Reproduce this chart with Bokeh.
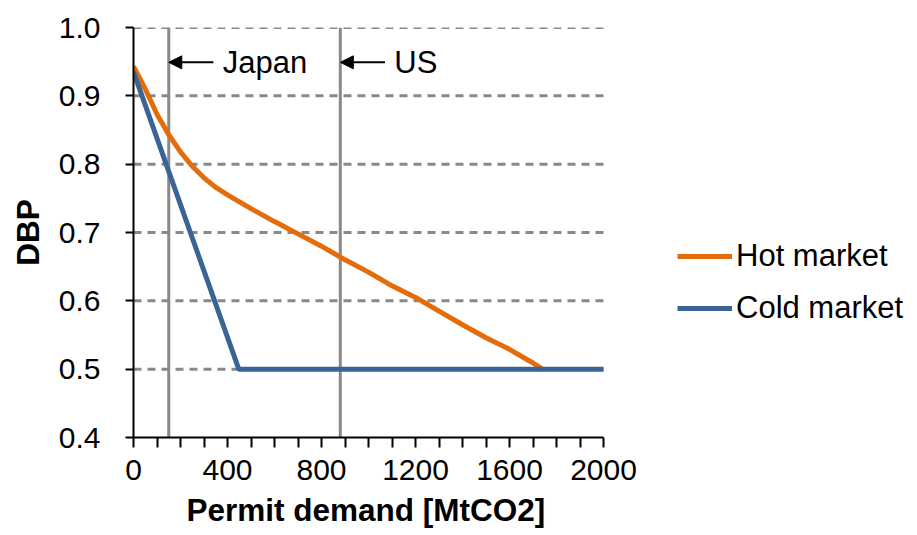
from bokeh.plotting import figure
from bokeh.models import (Range1d, FixedTicker, NumeralTickFormatter, Legend, LegendItem,
                          Span, Arrow, NormalHead, Label, Title)
from bokeh.embed import file_html
from bokeh.resources import INLINE

# Data
hot_x = [0, 50, 100, 150, 200, 250, 300, 350, 400, 500, 600, 700, 800, 900, 1000,
         1100, 1200, 1300, 1400, 1500, 1600, 1700, 1740]
hot_y = [0.943, 0.91, 0.873, 0.843, 0.818, 0.797, 0.78, 0.766, 0.755, 0.735, 0.716,
         0.698, 0.68, 0.66, 0.642, 0.622, 0.605, 0.585, 0.565, 0.546, 0.529, 0.509, 0.5]
cold_x = [0, 448, 2000]
cold_y = [0.935, 0.5, 0.5]
x_ticks = list(range(0, 2001, 100))
x_labeled = [0, 400, 800, 1200, 1600, 2000]
y_ticks = [0.4, 0.5, 0.6, 0.7, 0.8, 0.9, 1.0]
markers = [("Japan", 150), ("US", 880)]
arrow_len = 190
arrow_y = 0.949
x_title = "Permit demand [MtCO2]"
y_title = "DBP"

FONT = "Liberation Sans"
ORANGE = "#E46C0A"
BLUE = "#3B6496"
GRAY = "#898989"

X_MIN, X_MAX = x_ticks[0], x_ticks[-1]
FRAME_LEFT = 133
PLOT_W = 470  # pixel width of the 0..2000 axis
W, H = 917, 535
x_view_max = X_MAX * (W - FRAME_LEFT) / PLOT_W  # frame extends under the legend area

p = figure(width=W, height=H, output_backend="svg", toolbar_location=None,
           x_range=Range1d(X_MIN, x_view_max), y_range=Range1d(y_ticks[0], y_ticks[-1]),
           min_border_left=FRAME_LEFT, min_border_right=0, min_border_top=27, min_border_bottom=98)
p.outline_line_color = None
p.background_fill_color = "white"
p.border_fill_color = "white"

# grid (horizontal dashed lines limited to the 0..2000 axis extent)
p.xgrid.visible = False
p.ygrid.visible = False
gy = y_ticks[1:]
p.segment(x0=[X_MIN] * len(gy), y0=gy, x1=[X_MAX] * len(gy), y1=gy,
          line_color=GRAY, line_width=3, line_dash="8 6")

# axes
p.xaxis.ticker = FixedTicker(ticks=x_ticks)
p.xaxis.bounds = (X_MIN, X_MAX)
p.xaxis.major_label_overrides = {t: (str(t) if t in x_labeled else "") for t in x_ticks}
p.yaxis.ticker = FixedTicker(ticks=y_ticks)
p.yaxis.formatter = NumeralTickFormatter(format="0.0")
for ax in (p.xaxis, p.yaxis):
    ax.axis_line_color = "black"
    ax.axis_line_width = 2
    ax.major_tick_line_color = "black"
    ax.major_tick_line_width = 2
    ax.major_tick_in = 0
    ax.minor_tick_line_color = None
    ax.major_label_text_font = FONT
    ax.major_label_text_font_size = "30px"
    ax.major_label_text_color = "black"
    ax.axis_label_text_font = FONT
    ax.axis_label_text_font_size = "31.5px"
    ax.axis_label_text_font_style = "bold"
    ax.axis_label_text_color = "black"
p.xaxis.major_tick_out = 10
p.yaxis.major_tick_out = 8
p.xaxis.major_label_standoff = 12
p.yaxis.major_label_standoff = 25
p.yaxis.axis_label = y_title
p.yaxis.axis_label_standoff = 10

# x-axis title, centred under the 0..2000 axis (not under the whole frame)
p.add_layout(Title(text=x_title, align="left", offset=53, text_font=FONT,
                   text_font_size="31.5px", text_font_style="bold", text_color="black",
                   standoff=15), "below")

# vertical marker lines and annotations
for name, xv in markers:
    p.add_layout(Span(location=xv, dimension="height", line_color=GRAY, line_width=3,
                      level="underlay"))
    p.add_layout(Arrow(end=NormalHead(size=13, fill_color="black", line_color="black"),
                       x_start=xv + arrow_len, y_start=arrow_y, x_end=xv, y_end=arrow_y,
                       line_color="black", line_width=2))
    p.add_layout(Label(x=xv + arrow_len + 40, y=arrow_y, text=name, text_font=FONT,
                       text_font_size="31px", text_color="black", text_baseline="middle"))

r_hot = p.line(hot_x, hot_y, line_color=ORANGE, line_width=5)
r_cold = p.line(cold_x, cold_y, line_color=BLUE, line_width=5)

legend = Legend(items=[LegendItem(label="Hot market", renderers=[r_hot]),
                       LegendItem(label="Cold market", renderers=[r_cold])],
                location=(544, 111), orientation="vertical")
legend.border_line_color = None
legend.background_fill_alpha = 0
legend.label_text_font = FONT
legend.label_text_font_size = "31px"
legend.label_text_color = "black"
legend.glyph_width = 55
legend.glyph_height = 30
legend.label_height = 30
legend.label_standoff = 4
legend.spacing = 16
legend.padding = 0
legend.margin = 0
p.add_layout(legend, "center")

open("out.html", "w").write(file_html(p, INLINE))
